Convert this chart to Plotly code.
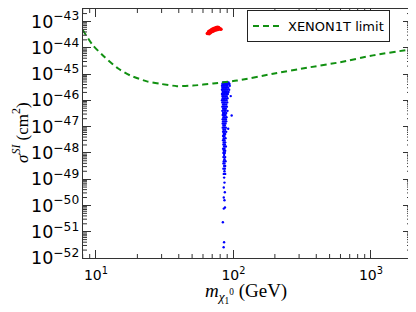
import plotly.graph_objects as go

# XENON1T limit curve (mass in GeV, log10 sigma in cm^2)
xenon_mass = [8.0, 8.2, 9.5, 11.6, 14.5, 17.7, 23.5, 29.2, 38.8, 50.7, 71, 106, 194, 343, 596, 1035, 1828, 2000]
xenon_log10_sigma = [-43.33, -43.41, -43.91, -44.36, -44.79, -45.05, -45.28, -45.37, -45.46, -45.44,
                     -45.36, -45.25, -44.99, -44.76, -44.55, -44.29, -44.08, -44.03]

# red cluster
red_mass = [64.5, 65.5, 66.4, 67.2, 68.0, 68.8, 69.8, 70.6, 71.6, 72.4, 73.3, 74.2, 75.2, 76.1, 77.1, 78.0, 79.0, 80.0, 81.1,
            66.0, 67.5, 69.0, 70.5, 72.0, 73.5, 75.0, 76.5, 78.0,
            66.5, 68.0, 69.5, 71.0, 72.5, 74.0, 75.5, 77.0]
red_log10_sigma = [-43.46, -43.44, -43.42, -43.40, -43.38, -43.36, -43.34, -43.33, -43.31, -43.30, -43.285, -43.275, -43.266,
                   -43.262, -43.264, -43.27, -43.28, -43.29, -43.30,
                   -43.385, -43.35, -43.315, -43.29, -43.265, -43.245, -43.225, -43.22, -43.228,
                   -43.465, -43.425, -43.39, -43.37, -43.345, -43.32, -43.31, -43.305]

# blue cluster
blue_mass = [
    84, 86, 88, 90, 92,
    83, 85, 87, 89, 91, 93.5,
    82.5, 84.5, 86.5, 88.5, 90.5, 94,
    83, 85, 87, 89, 91.5,
    82.5, 84, 86, 88, 90, 93,
    83.5, 85.5, 87.5, 89.5, 92,
    82.5, 84.5, 86.5, 88.5, 91,
    83, 85, 87, 89.5, 95.5,
    83.5, 85.5, 88, 90.5,
    82.5, 84.5, 86.5, 89,
    83, 85, 87, 90,
    84, 86, 88.5,
    83, 85, 87, 89.5,
    84, 86, 88,
    83, 85.5, 87.5, 90.5,
    84, 86, 88.5,
    83.5, 85.5, 87.5, 97,
    84.5, 86.5, 89,
    83.5, 85.5, 88,
    84, 86.5, 88.5,
    83.5, 85.5, 87.5,
    84.5, 86.5,
    83.5, 85.5, 88,
    91.5,
    84.5, 87,
    84, 86, 88.5,
    85, 87,
    84, 86,
    85, 87.5,
    84, 86,
    85, 87,
    84.5, 86.5,
    85.5, 88,
    84, 86,
    85, 87,
    84.5, 86.5,
    85.5,
    84.5, 87,
    86,
    85, 87.5,
    84.5, 86,
    85.5, 87,
    84.5, 86.5,
    86,
    85, 87,
    85.5,
    86,
    85,
    86.5,
    85,
    86,
    86.7,
    85,
    83.7,
    85.4,
    84.8,
]
blue_log10_sigma = [
    -45.32, -45.32, -45.32, -45.32, -45.32,
    -45.38, -45.38, -45.38, -45.38, -45.38, -45.38,
    -45.45, -45.45, -45.45, -45.45, -45.45, -45.45,
    -45.52, -45.52, -45.52, -45.52, -45.52,
    -45.60, -45.60, -45.60, -45.60, -45.60, -45.60,
    -45.68, -45.68, -45.68, -45.68, -45.68,
    -45.76, -45.76, -45.76, -45.76, -45.76,
    -45.84, -45.84, -45.84, -45.84, -45.84,
    -45.92, -45.92, -45.92, -45.92,
    -46.00, -46.00, -46.00, -46.00,
    -46.08, -46.08, -46.08, -46.08,
    -46.16, -46.16, -46.16,
    -46.24, -46.24, -46.24, -46.24,
    -46.32, -46.32, -46.32,
    -46.40, -46.40, -46.40, -46.40,
    -46.48, -46.48, -46.48,
    -46.56, -46.56, -46.56, -46.58,
    -46.64, -46.64, -46.64,
    -46.72, -46.72, -46.72,
    -46.80, -46.80, -46.80,
    -46.88, -46.88, -46.88,
    -46.96, -46.96,
    -47.04, -47.04, -47.04,
    -47.08,
    -47.12, -47.12,
    -47.20, -47.20, -47.20,
    -47.28, -47.28,
    -47.36, -47.36,
    -47.44, -47.44,
    -47.52, -47.52,
    -47.60, -47.60,
    -47.68, -47.68,
    -47.76, -47.76,
    -47.84, -47.84,
    -47.92, -47.92,
    -48.00, -48.00,
    -48.08,
    -48.16, -48.16,
    -48.24,
    -48.32, -48.32,
    -48.40, -48.40,
    -48.50, -48.50,
    -48.60, -48.60,
    -48.70,
    -48.80, -48.80,
    -48.94,
    -49.13,
    -49.32,
    -49.50,
    -49.70,
    -49.80,
    -50.08,
    -50.12,
    -50.64,
    -51.40,
    -51.59,
]

# tick labels
x_tick_values = [10, 100, 1000]
x_tick_labels = ["10<sup>1</sup>", "10<sup>2</sup>", "10<sup>3</sup>"]
x_minor_ticks = [8, 9, 20, 30, 40, 50, 60, 70, 80, 90, 200, 300, 400, 500, 600, 700, 800, 900, 2000]
y_minor_mantissas = [2, 3, 4, 5, 6, 7, 8, 9]
y_decades = [-52, -51, -50, -49, -48, -47, -46, -45, -44, -43]

X_RANGE = [0.9055, 3.291]
Y_RANGE = [-52, -42.525]

fig = go.Figure()
fig.add_trace(go.Scatter(x=blue_mass, y=[10 ** v for v in blue_log10_sigma], mode="markers",
                         marker=dict(color="#0000ff", size=2.4, line=dict(width=0)), showlegend=False))
fig.add_trace(go.Scatter(x=red_mass, y=[10 ** v for v in red_log10_sigma], mode="markers",
                         marker=dict(color="#ff0000", size=3.5, line=dict(width=0)), showlegend=False))
fig.add_trace(go.Scatter(x=xenon_mass, y=[10 ** v for v in xenon_log10_sigma], mode="lines",
                         line=dict(color="#119011", width=2, dash="6px,4px", shape="spline", smoothing=0.6),
                         name="XENON1T limit"))

axis_common = dict(type="log", showgrid=False, zeroline=False, showline=True, linecolor="#333", linewidth=1,
                   mirror="allticks", ticks="inside", ticklen=8, tickcolor="#333", automargin=False,
                   exponentformat="power", tickfont=dict(family="DejaVu Sans", size=14, color="black"))

fig.update_xaxes(range=X_RANGE, tickmode="array", tickvals=x_tick_values, ticktext=x_tick_labels,
                 ticklabelstandoff=4, **axis_common)
fig.update_yaxes(range=Y_RANGE, dtick=1, **axis_common)

# minor ticks (inside, on all four sides)
tick_style = dict(type="line", line=dict(color="#333", width=1), layer="above")
shapes = []
for xv in x_minor_ticks:
    for anchor, length in ((0, 4), (1, -4)):
        shapes.append(dict(xref="x", x0=xv, x1=xv, yref="paper", ysizemode="pixel", yanchor=anchor,
                           y0=0, y1=length, **tick_style))
for dec in y_decades:
    for m in y_minor_mantissas:
        yv = m * 10.0 ** dec
        if yv >= 10 ** Y_RANGE[1]:
            continue
        for anchor, length in ((0, 4), (1, -4)):
            shapes.append(dict(yref="y", y0=yv, y1=yv, xref="paper", xsizemode="pixel", xanchor=anchor,
                               x0=0, x1=length, **tick_style))

fig.update_layout(
    template="none",
    width=416, height=312,
    margin=dict(l=75, r=13, t=1, b=62),
    paper_bgcolor="white", plot_bgcolor="white",
    shapes=shapes,
    legend=dict(x=0.5, y=0.996, xanchor="left", yanchor="top", bgcolor="white",
                bordercolor="#222", borderwidth=1, font=dict(family="DejaVu Sans", size=13, color="black")),
    annotations=[
        dict(text="<i>σ</i><sup><i>SI</i></sup> (cm<sup>2</sup>)", xref="paper", yref="paper",
             x=-0.19, y=0.505, textangle=-90, showarrow=False, xanchor="center", yanchor="middle",
             font=dict(family="Liberation Serif", size=17, color="black")),
        dict(text="<i>m</i><sub><i>χ</i><sub>1</sub><sup>0</sup></sub> (GeV)", xref="paper", yref="paper",
             x=0.497, y=-0.14, showarrow=False, xanchor="center", yanchor="middle",
             font=dict(family="Liberation Serif", size=19, color="black")),
    ],
)

fig.write_html("out.html")
